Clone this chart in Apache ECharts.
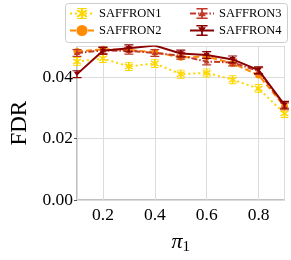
<!DOCTYPE html>
<html><head><meta charset="utf-8">
<script src="https://cdn.jsdelivr.net/npm/echarts@6/dist/echarts.min.js"></script>
<style>html,body{margin:0;padding:0;background:#fff}#c{width:291px;height:260px}</style>
</head><body><div id="c"></div>
<script>
var pi1 = [0.1, 0.2, 0.3, 0.4, 0.5, 0.6, 0.7, 0.8, 0.9];
var saffron1 = [0.0451, 0.0461, 0.0435, 0.0445, 0.0410, 0.0414, 0.0392, 0.0363, 0.0282];
var saffron2 = [0.0484, 0.0491, 0.0489, 0.0481, 0.0465, 0.0467, 0.0445, 0.0407, 0.0305];
var saffron3 = [0.0479, 0.0487, 0.0486, 0.0479, 0.0470, 0.0451, 0.0448, 0.0420, 0.0305];
var saffron4 = [0.0410, 0.0486, 0.0494, 0.0503, 0.0477, 0.0472, 0.0458, 0.0423, 0.0310];
var names = ['SAFFRON1', 'SAFFRON2', 'SAFFRON3', 'SAFFRON4'];

var serif = '"Liberation Serif", "DejaVu Serif", serif';
var symS1 = 'path://M4.3 0H5.7V10H4.3Z M2 0H8V1H2Z M2 9H8V10H2Z M1.5 2.5L2.5 1.5L8.5 7.5L7.5 8.5Z M7.5 1.5L8.5 2.5L2.5 8.5L1.5 7.5Z';
var symS3 = 'path://M0 0H10V1.5H0Z M4.2 0H5.8V10H4.2Z M0 8.5H10V10H0Z M1.5 7.5L5 2L8.5 7.5Z';
var symS4 = 'path://M0 0H10V1.5H0Z M4.2 0H5.8V10H4.2Z M0 8.5H10V10H0Z M1.5 2L8.5 2L5 7.5Z';

function pts(arr) { return pi1.map(function (x, i) { return [x, arr[i]]; }); }

var legendText = {fontFamily: serif, fontSize: 12.5, color: '#000'};
var chart = echarts.init(document.getElementById('c'), null, {renderer: 'canvas'});
chart.setOption({
  animation: false,
  grid: {left: 64.5, right: 6.5, top: 46.5, bottom: 51, show: true, borderColor: '#808080', borderWidth: 1, backgroundColor: 'transparent'},
  graphic: [{
    type: 'rect', left: 65, top: 3, z: 90,
    shape: {width: 222, height: 39, r: 3},
    style: {fill: 'rgba(255,255,255,0.85)', stroke: '#cccccc', lineWidth: 1}
  }],
  legend: [{
    data: [names[0], names[1]], orient: 'vertical', left: 69, top: 7, padding: 0,
    itemWidth: 24, itemHeight: 14, itemGap: 4, z: 100,
    textStyle: legendText
  }, {
    data: [names[2], names[3]], orient: 'vertical', left: 189, top: 7, padding: 0,
    itemWidth: 24, itemHeight: 14, itemGap: 4, z: 100,
    textStyle: legendText
  }],
  xAxis: {
    type: 'value', min: 0.1, max: 0.9,
    name: '{p|π}{s|1}', nameLocation: 'middle', nameGap: 30,
    nameTextStyle: {rich: {p: {fontFamily: serif, fontSize: 22, fontStyle: 'italic', color: '#000'}, s: {fontFamily: serif, fontSize: 15, color: '#000', verticalAlign: 'bottom', padding: [10, 0, 0, 0]}}},
    axisLine: {show: false},
    axisTick: {show: false},
    axisLabel: {showMinLabel: false, showMaxLabel: false, fontFamily: serif, fontSize: 17.5, color: '#000', margin: 6, formatter: function (v) { return v.toFixed(1); }},
    splitLine: {show: true, lineStyle: {color: '#dcdcdc', width: 1}}
  },
  yAxis: {
    type: 'value', min: 0, max: 0.05, interval: 0.02,
    name: 'FDR', nameLocation: 'middle', nameGap: 46,
    nameTextStyle: {fontFamily: serif, fontSize: 23, color: '#000'},
    axisLine: {show: false},
    axisTick: {show: true, length: 3, inside: false, lineStyle: {color: '#555'}},
    axisLabel: {showMaxLabel: false, fontFamily: serif, fontSize: 17.5, color: '#000', margin: 4, formatter: function (v) { return v.toFixed(2); }},
    splitLine: {show: true, lineStyle: {color: '#dcdcdc', width: 1}}
  },
  series: [{
    name: names[0], type: 'line', data: pts(saffron1), z: 2,
    symbol: symS1, symbolSize: [9, 9], showAllSymbol: true,
    itemStyle: {color: '#FFD700'},
    lineStyle: {color: '#FFD700', width: 2, type: [2, 3]}
  }, {
    name: names[1], type: 'line', data: pts(saffron2), z: 3,
    symbol: 'circle', symbolSize: 7, showAllSymbol: true,
    itemStyle: {color: '#FF8C00'},
    lineStyle: {color: '#FF8C00', width: 2, type: [6, 3]}
  }, {
    name: names[2], type: 'line', data: pts(saffron3), z: 4,
    symbol: symS3, symbolSize: [9, 8], showAllSymbol: true,
    itemStyle: {color: '#C0392B'},
    lineStyle: {color: '#C0392B', width: 2, type: [6, 2, 1.5, 2]}
  }, {
    name: names[3], type: 'line', data: pts(saffron4), z: 5,
    symbol: symS4, symbolSize: [9, 8], showAllSymbol: true,
    itemStyle: {color: '#8B0000'},
    lineStyle: {color: '#8B0000', width: 2, type: 'solid'}
  }]
});
</script></body></html>
